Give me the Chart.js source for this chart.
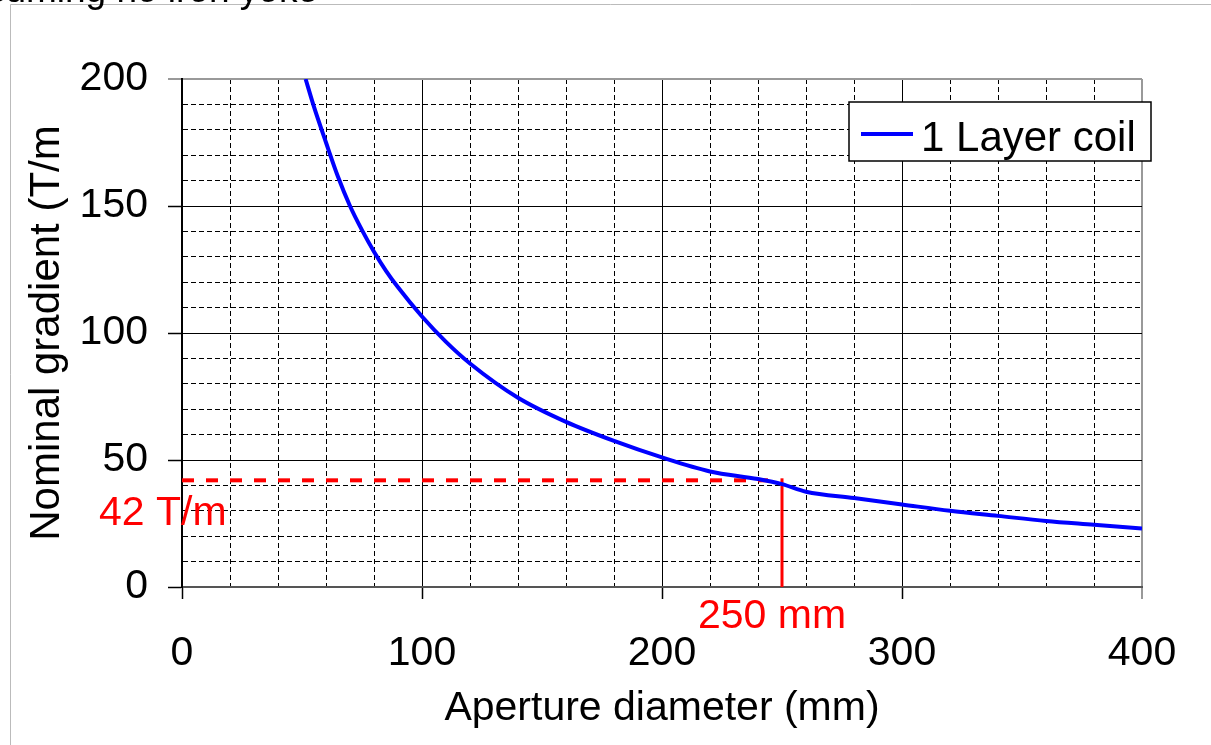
<!DOCTYPE html>
<html>
<head>
<meta charset="utf-8">
<title>Nominal gradient vs aperture diameter</title>
<script src="https://cdn.jsdelivr.net/npm/chart.js@4.4.1/dist/chart.umd.min.js"></script>
<style>
  html, body { margin: 0; padding: 0; background: #fff; }
  #wrap { width: 1211px; height: 745px; }
</style>
</head>
<body>
<div id="wrap"><canvas id="gradientChart" width="1211" height="745"></canvas></div>
<script>
// Data
const apertureMm = [51.5, 55, 60, 65, 70, 75, 80, 85, 90, 100, 110, 120, 140, 160, 180, 200, 220, 240, 250, 260, 280, 300, 320, 340, 360, 380, 400];
const gradientTm = [200, 189, 175, 161.5, 150, 140.5, 132, 124.5, 118, 106.5, 96.5, 88, 74.5, 65, 57.5, 51, 45.5, 42.5, 40.5, 37.5, 35, 32.5, 30, 28, 26, 24.5, 23];
const xMajorTicks = [0, 100, 200, 300, 400];
const yMajorTicks = [0, 50, 100, 150, 200];
const xMinorStep = 20;
const yMinorStep = 10;
const markerAperture = 250;
const markerGradient = 42;
const seriesLabel = "1 Layer coil";
const headerText = "Assuming no iron yoke";

const FONT = "'Liberation Sans', Arial, sans-serif";
const RED = "#ff0000";
const BLUE = "#0000ff";

// Style of one grid line: solid for major values, dashed for minor ones
function gridStyle(majors, edge) {
  return {
    color: (ctx) => (ctx.tick && ctx.tick.value === edge ? "#999" : "#000"),
    lineWidth: (ctx) => (ctx.tick && ctx.tick.value === edge ? 2 : 1),
    tickColor: (ctx) => {
      if (!ctx.tick || !majors.includes(ctx.tick.value)) return "rgba(0,0,0,0)";
      return ctx.tick.value === edge ? "#777" : "#000";
    },
    dash: (ctx) => (ctx.tick && !majors.includes(ctx.tick.value) ? [5, 3] : []),
  };
}

const xGrid = gridStyle(xMajorTicks, xMajorTicks[xMajorTicks.length - 1]);
const yGrid = gridStyle(yMajorTicks, yMajorTicks[yMajorTicks.length - 1]);

// Where the curve crosses the marked gradient
function crossingAperture(level) {
  for (let i = 1; i < apertureMm.length; i++) {
    const g0 = gradientTm[i - 1];
    const g1 = gradientTm[i];
    if (g0 >= level && g1 <= level) {
      const t = (g0 - level) / (g0 - g1);
      return apertureMm[i - 1] + t * (apertureMm[i] - apertureMm[i - 1]);
    }
  }
  return markerAperture;
}

// Red marker lines and their labels
const markerPlugin = {
  id: "marker",
  beforeDatasetsDraw(chart) {
    const { ctx, chartArea, scales } = chart;
    const px = scales.x.getPixelForValue(markerAperture);
    const py = scales.y.getPixelForValue(markerGradient);
    const pxCross = scales.x.getPixelForValue(crossingAperture(markerGradient));
    ctx.save();
    ctx.strokeStyle = RED;
    ctx.lineWidth = 4;
    ctx.setLineDash([12, 12]);
    ctx.beginPath();
    ctx.moveTo(chartArea.left, py);
    ctx.lineTo(pxCross + 4, py);
    ctx.stroke();
    ctx.setLineDash([]);
    ctx.lineWidth = 3;
    ctx.beginPath();
    ctx.moveTo(px, chartArea.bottom);
    ctx.lineTo(px, py - 2);
    ctx.stroke();
    ctx.fillStyle = RED;
    ctx.font = "41px " + FONT;
    ctx.textBaseline = "alphabetic";
    ctx.textAlign = "left";
    ctx.fillText(markerGradient + " T/m", chartArea.left - 83, py + 45);
    ctx.textAlign = "center";
    ctx.fillText(markerAperture + " mm", px - 10, chartArea.bottom + 41);
    ctx.restore();
  },
};

// Boxed legend, outer frame and the cut header line
const decorPlugin = {
  id: "decor",
  afterDraw(chart) {
    const { ctx, chartArea } = chart;
    const ds = chart.data.datasets[0];
    ctx.save();
    // legend box
    const lx = chartArea.right - 293;
    const ly = chartArea.top + 23;
    ctx.fillStyle = "#fff";
    ctx.fillRect(lx, ly, 302, 59);
    ctx.strokeStyle = "#000";
    ctx.lineWidth = 1.5;
    ctx.strokeRect(lx, ly, 302, 59);
    ctx.strokeStyle = ds.borderColor;
    ctx.lineWidth = 4;
    ctx.beginPath();
    ctx.moveTo(lx + 12, ly + 32);
    ctx.lineTo(lx + 64, ly + 32);
    ctx.stroke();
    ctx.fillStyle = "#000";
    ctx.font = "42px " + FONT;
    ctx.textAlign = "left";
    ctx.textBaseline = "alphabetic";
    ctx.fillText(ds.label, lx + 72, ly + 49);
    // frame of the slide
    ctx.strokeStyle = "#bbb";
    ctx.lineWidth = 1;
    ctx.beginPath();
    ctx.moveTo(10.5, chart.height);
    ctx.lineTo(10.5, 4.5);
    ctx.lineTo(chart.width, 4.5);
    ctx.stroke();
    // header, mostly above the visible area
    ctx.font = "37px " + FONT;
    ctx.textAlign = "right";
    ctx.fillText(headerText, 318, 2);
    ctx.restore();
  },
};

const ctx = document.getElementById("gradientChart").getContext("2d");
new Chart(ctx, {
  type: "line",
  data: {
    datasets: [
      {
        label: seriesLabel,
        data: apertureMm.map((x, i) => ({ x: x, y: gradientTm[i] })),
        borderColor: BLUE,
        borderWidth: 4,
        pointRadius: 0,
        cubicInterpolationMode: "monotone",
        fill: false,
        clip: 0,
      },
    ],
  },
  options: {
    responsive: false,
    devicePixelRatio: 1,
    animation: false,
    layout: { padding: { left: 0, top: 79, right: 69, bottom: 0 } },
    plugins: {
      legend: { display: false },
      tooltip: { enabled: false },
    },
    scales: {
      x: {
        type: "linear",
        min: 0,
        max: 400,
        afterFit: (scale) => { scale.height = 158; },
        ticks: {
          stepSize: xMinorStep,
          autoSkip: false,
          maxRotation: 0,
          padding: 30,
          color: "#000",
          font: { size: 41, family: FONT },
          callback: (v) => (xMajorTicks.includes(v) ? String(v) : ""),
        },
        grid: {
          color: xGrid.color,
          lineWidth: xGrid.lineWidth,
          tickColor: xGrid.tickColor,
          tickLength: 12,
          tickWidth: 1.5,
        },
        border: { display: true, color: "#555", width: 2, dash: xGrid.dash },
        title: {
          display: true,
          text: "Aperture diameter (mm)",
          color: "#000",
          font: { size: 41, family: FONT },
          padding: { top: 0, bottom: 12 },
        },
      },
      y: {
        type: "linear",
        min: 0,
        max: 200,
        afterFit: (scale) => { scale.width = 182; },
        ticks: {
          stepSize: yMinorStep,
          autoSkip: false,
          padding: 20,
          color: "#000",
          font: { size: 41, family: FONT },
          callback: (v) => (yMajorTicks.includes(v) ? String(v) : ""),
        },
        grid: {
          color: yGrid.color,
          lineWidth: yGrid.lineWidth,
          tickColor: yGrid.tickColor,
          tickLength: 14,
          tickWidth: 1.5,
        },
        border: { display: true, color: "#000", width: 2, dash: yGrid.dash },
        title: {
          display: true,
          text: "Nominal gradient (T/m",
          color: "#000",
          font: { size: 42, family: FONT },
          padding: { top: 22, bottom: 0 },
        },
      },
    },
  },
  plugins: [markerPlugin, decorPlugin],
});
</script>
</body>
</html>
